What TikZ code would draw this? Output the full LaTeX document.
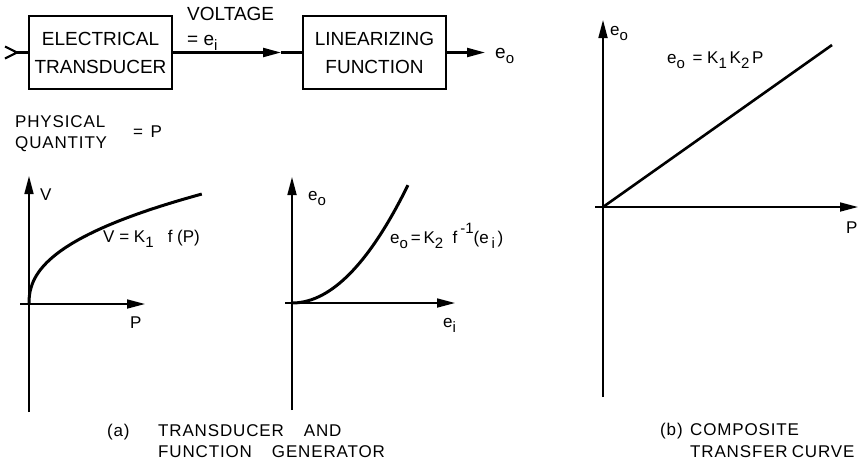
\documentclass[tikz,border=0pt]{standalone}
\usepackage{fontspec}
\setmainfont{Liberation Sans}
\newfontfamily\widefont[LetterSpace=5]{Liberation Sans}
\usetikzlibrary{arrows.meta}
\newcommand{\lsub}[1]{\raisebox{-0.3em}{\fontsize{15}{15}\selectfont #1}}
\newcommand{\usup}[1]{\raisebox{0.55em}{\fontsize{15}{15}\selectfont #1}}

\begin{document}
\begin{tikzpicture}[x=1pt, y=-1pt, font=\fontsize{19}{28}\selectfont,
  box/.style={draw, line width=2.4pt, minimum width=143pt, minimum height=73pt, inner sep=0pt, align=center},
  arr/.style={-{Triangle[length=18pt, width=9pt]}, line width=2.2pt},
  ax/.style={-{Triangle[length=18pt, width=9pt]}, line width=1.7pt},
  crv/.style={line width=3pt},
  lab/.style={inner sep=0pt, anchor=base west},
  glab/.style={lab, font=\fontsize{17}{20}\selectfont},
  captxt/.style={lab, font=\widefont\fontsize{17}{20}\selectfont}]
  \useasboundingbox (0,0) rectangle (866,464);
  % block diagram
  \node[box] (et) at (100.5,52.5) {ELECTRICAL\\TRANSDUCER};
  \node[box] (lf) at (374.5,52.5) {LINEARIZING\\FUNCTION};
  \coordinate (in)  at (17,52.5);
  \coordinate (vm)  at (281,52.5);
  \coordinate (out) at (485,52.5);
  \draw[line width=2.2pt] ([shift={(-12,-6)}]in) -- (in) -- ([shift={(-12,6)}]in);
  \draw[line width=2.2pt] (in) -- (et.west);
  \draw[arr] (et.east) -- (vm);
  \draw[line width=2.2pt] (vm) -- (lf.west);
  \draw[arr] (lf.east) -- (out);
  \node[lab] (volt) at (187,20) {VOLTAGE};
  \node[lab] (ei)   at (187,45) {= e\lsub{i}};
  \node[lab] (eo)   at (495,58) {e\lsub{o}};
  \node[captxt] (phys) at (15,127) {PHYSICAL};
  \node[captxt] (qty)  at (15,148) {QUANTITY};
  \node[glab] (eqp) at (133,137) {=\ \,P};
  % graph (a) left: transducer
  \coordinate (o1)  at (29,304);
  \coordinate (a1b) at (29,412);
  \coordinate (a1t) at (29,176);
  \coordinate (h1l) at (20,304);
  \coordinate (h1r) at (145,304);
  \draw[ax] (a1b) -- (a1t);
  \draw[ax] (h1l) -- (h1r);
  \draw[crv] (o1) -- plot[domain=0.02:1, samples=60, smooth] ({29+173*pow(\x,2.33)}, {304-110*\x});
  \node[glab] (vv)  at (40,200)  {V};
  \node[glab] (pp1) at (130,328) {P};
  \node[glab] (fv)  at (103,242) {V = K\lsub{1}\ \ \ f (P)};
  % graph (a) right: function generator
  \coordinate (o2)  at (292,303);
  \coordinate (a2b) at (292,410);
  \coordinate (a2t) at (292,177);
  \coordinate (h2l) at (285,303);
  \coordinate (h2r) at (455,303);
  \draw[ax] (a2b) -- (a2t);
  \draw[ax] (h2l) -- (h2r);
  \draw[crv] (o2) -- plot[domain=0:1, samples=60, smooth] ({292+116*\x}, {303-118*\x*\x});
  \node[glab] (eo2) at (308,200) {e\lsub{o}};
  \node[glab] (ei2) at (443,327) {e\lsub{i}};
  \node[glab] (fe)  at (390,243) {e\lsub{o}\,=\,K\lsub{2}\ \ f\,\usup{-1}(e\,\lsub{i}\,)};
  % graph (b): composite
  \coordinate (o3)  at (603,207);
  \coordinate (e3)  at (832,45);
  \coordinate (a3b) at (603,397);
  \coordinate (a3t) at (603,20);
  \coordinate (h3l) at (595,207);
  \coordinate (h3r) at (858,207);
  \draw[ax] (a3b) -- (a3t);
  \draw[ax] (h3l) -- (h3r);
  \draw[line width=2.6pt] (o3) -- (e3);
  \node[glab] (eo3) at (610,35)  {e\lsub{o}};
  \node[glab] (pp3) at (846,233) {P};
  \node[glab] (fc)  at (667,63)  {e\lsub{o}\ \,= K\lsub{1}\,K\lsub{2}\,P};
  % captions
  \node[captxt] (tga) at (107,436) {(a)};
  \node[captxt] (ca1) at (158,436) {TRANSDUCER\hspace{20pt}AND};
  \node[captxt] (ca2) at (158,457) {FUNCTION\hspace{20pt}GENERATOR};
  \node[captxt] (tgb) at (660,435) {(b)};
  \node[captxt] (cb1) at (690,435) {COMPOSITE};
  \node[captxt] (cb2) at (690,457) {TRANSFER\hspace{4pt}CURVE};
\end{tikzpicture}
\end{document}
